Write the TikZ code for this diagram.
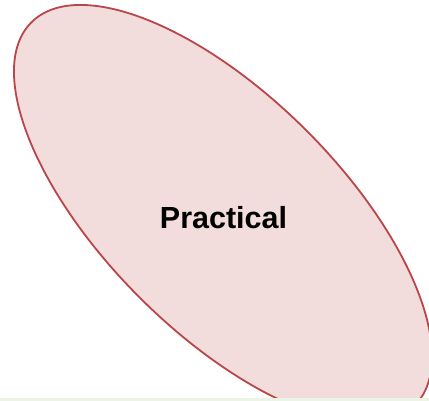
\documentclass[tikz,border=0pt]{standalone}
\usepackage{fontspec}
\setmainfont{Liberation Sans}
\definecolor{ellfill}{RGB}{242,220,220}
\definecolor{elldraw}{RGB}{185,70,74}
\definecolor{stripgreen}{RGB}{236,244,230}
\begin{document}
\begin{tikzpicture}[x=1pt,y=1pt,
  lbl/.style={font=\bfseries\fontsize{30.5}{35}\selectfont, text=black, inner sep=0pt}]
\useasboundingbox (0,0) rectangle (429,401);
\fill[white] (0,0) rectangle (429,401);
\begin{scope}
\clip (0,3) rectangle (429,401);
\draw[fill=ellfill, draw=elldraw, line width=1.8pt, shift={(223,187)}, rotate=-45]
  (0,0) ellipse [x radius=271, y radius=118];
\end{scope}
\fill[stripgreen] (0,0) rectangle (429,3);
\node[lbl, anchor=base] (p) at (223.5,172) {Practical};
\end{tikzpicture}
\end{document}
